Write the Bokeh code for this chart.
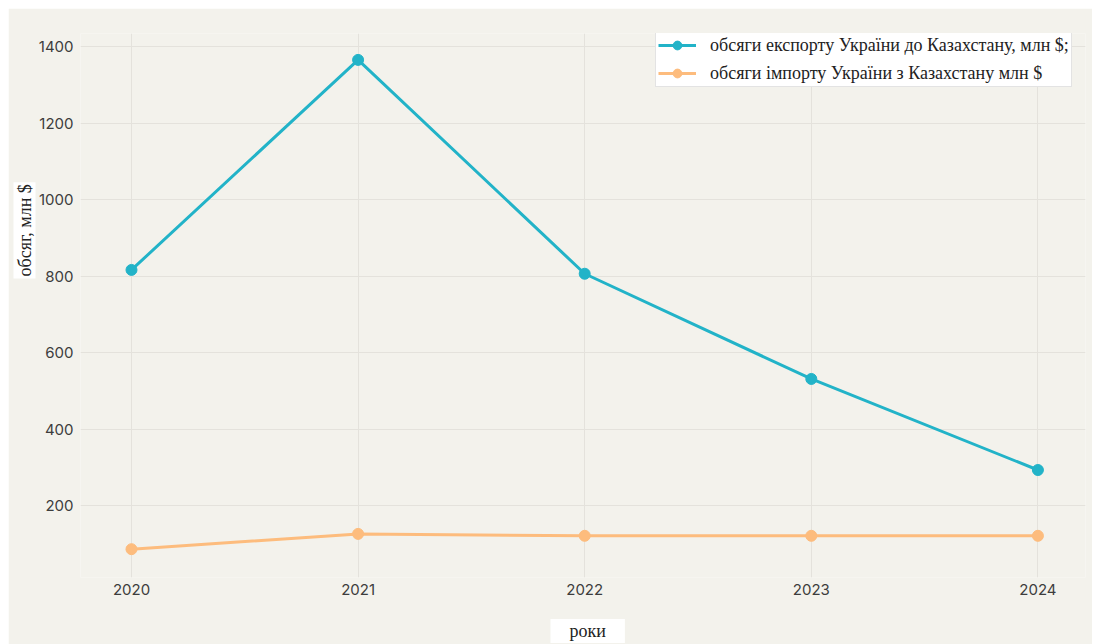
import math
from bokeh.plotting import figure
from bokeh.models import Legend, LegendItem, FixedTicker, Range1d, Title
from bokeh.embed import file_html
from bokeh.resources import INLINE

years = [2020, 2021, 2022, 2023, 2024]
export_vals = [816, 1365, 806, 531, 293]
import_vals = [86, 126, 121, 121, 121]
y_ticks = [200, 400, 600, 800, 1000, 1200, 1400]
export_name = "обсяги експорту України до Казахстану, млн $;"
import_name = "обсяги імпорту України з Казахстану млн $"
x_title = "роки"
y_title = "обсяг, млн $"

BG = "#f3f2ec"
GRID = "#e4e2dc"
TEAL = "#22b3c8"
ORANGE = "#fdbc7d"
TXT = "#3d3d3d"
SERIF = "Liberation Serif"
SANS = "Inter"

X0, X1 = 2019.775, 2024.21
Y0, Y1 = 12, 1434

p = figure(width=1084, height=636, frame_width=1005, frame_height=544,
           min_border_left=72, min_border_right=7, min_border_top=25, min_border_bottom=67,
           x_range=Range1d(X0, X1), y_range=Range1d(Y0, Y1),
           output_backend="svg", toolbar_location=None)
p.margin = (8, 0, 0, 8)
p.background_fill_color = BG
p.border_fill_color = BG
p.outline_line_color = None

for ax in (p.xaxis, p.yaxis):
    ax.axis_line_color = None
    ax.major_tick_line_color = None
    ax.minor_tick_line_color = None
    ax.major_tick_out = 0
    ax.major_tick_in = 0
    ax.minor_tick_out = 0
    ax.major_label_text_font = SANS
    ax.major_label_text_font_size = "15px"
    ax.major_label_text_color = TXT
p.xaxis.ticker = FixedTicker(ticks=years)
p.yaxis.ticker = FixedTicker(ticks=y_ticks)
p.xaxis.major_label_standoff = 6
p.yaxis.major_label_standoff = 7

p.xgrid.ticker = FixedTicker(ticks=years)
p.ygrid.ticker = FixedTicker(ticks=y_ticks)
p.grid.grid_line_color = GRID
p.grid.grid_line_width = 1

l1 = p.line(years, export_vals, line_color=TEAL, line_width=3)
c1 = p.scatter(years, export_vals, size=11, fill_color=TEAL, line_color=TEAL)
l2 = p.line(years, import_vals, line_color=ORANGE, line_width=3)
c2 = p.scatter(years, import_vals, size=11, fill_color=ORANGE, line_color=ORANGE)

legend = Legend(items=[LegendItem(label=export_name, renderers=[l1, c1]),
                       LegendItem(label=import_name, renderers=[l2, c2])],
                location=(575, 490))
legend.label_text_font = SERIF
legend.label_text_font_size = "18px"
legend.label_text_color = "#222222"
legend.background_fill_color = "white"
legend.background_fill_alpha = 1.0
legend.border_line_color = "#c8c8c8"
legend.border_line_width = 1
legend.glyph_width = 38
legend.glyph_height = 22
legend.label_height = 22
legend.label_standoff = 14
legend.spacing = 6
legend.padding = 2
legend.margin = 0
p.add_layout(legend, "center")

xt = Title(text=x_title, align="left", offset=470, standoff=39,
           text_font=SERIF, text_font_size="18px", text_font_style="normal",
           text_color="#222222", background_fill_color="white", padding=(19, 2))
yt = Title(text=y_title, align="left", offset=299, standoff=0,
           text_font=SERIF, text_font_size="18px", text_font_style="normal",
           text_color="#222222", background_fill_color="white", padding=(2, 1))
p.add_layout(xt, "below")
p.add_layout(yt, "left")

open("out.html", "w").write(file_html(p, INLINE))
